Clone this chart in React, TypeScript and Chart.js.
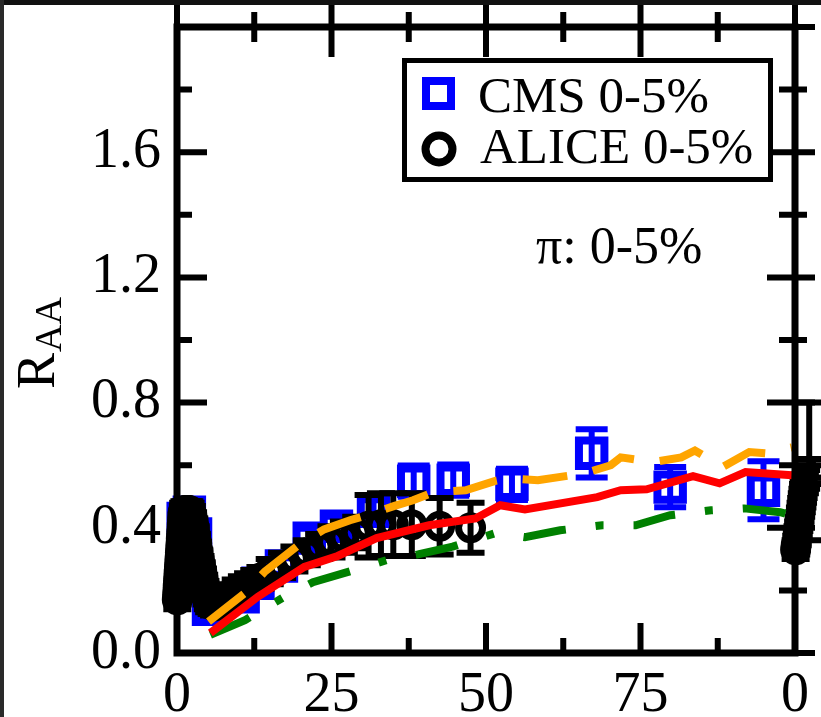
import React, { useEffect, useRef } from 'react';
import { Chart, registerables } from 'chart.js';

Chart.register(...registerables);

const FONT = '"Liberation Serif", "Times New Roman", serif';

// ---- data ----
const cmsX = [1.0, 2.0, 3.0, 5.1, 10.7, 13.1, 16.9, 21.4, 25.8, 31.8, 38.3, 44.7, 54.2, 67.1, 79.8, 94.9];
const cmsY = [0.43, 0.45, 0.38, 0.14, 0.18, 0.223, 0.278, 0.367, 0.405, 0.453, 0.549, 0.552, 0.539, 0.638, 0.53, 0.52];
const cmsErr = [0.02, 0.02, 0.02, 0.02, 0.02, 0.02, 0.025, 0.03, 0.03, 0.035, 0.05, 0.05, 0.05, 0.077, 0.064, 0.093];

// ALICE: dense low-pT bins (rise, plateau, fall), then higher pT bins
const aliceX = [
  0.05, 0.1, 0.15, 0.2, 0.25, 0.3, 0.35, 0.4, 0.45, 0.5, 0.55, 0.6, 0.65, 0.7, 0.75, 0.8, 0.85, 0.9, 0.95, 1.0,
  1.2, 1.4, 1.6, 1.8, 2.0, 2.2, 2.4,
  2.6, 2.8, 3.0, 3.2, 3.4, 3.6, 3.8, 4.0, 4.2, 4.4, 4.6, 4.8, 5.0, 5.2, 5.6, 6.0,
  6.5, 7.5, 8.5, 9.5, 10.5, 11.5, 12.5, 13.5, 15, 17, 19, 21, 23, 25, 27, 29, 31, 33, 35, 38, 42.5, 47.5,
];
const aliceY = [
  0.17, 0.185, 0.2, 0.215, 0.23, 0.245, 0.26, 0.275, 0.29, 0.305, 0.32, 0.335, 0.35, 0.365, 0.38, 0.395, 0.41, 0.425, 0.44, 0.45,
  0.455, 0.455, 0.455, 0.455, 0.455, 0.45, 0.44,
  0.42, 0.4, 0.375, 0.35, 0.325, 0.3, 0.28, 0.26, 0.24, 0.22, 0.2, 0.185, 0.17, 0.16, 0.155, 0.15,
  0.155, 0.17, 0.185, 0.2, 0.21, 0.22, 0.23, 0.24, 0.26, 0.28, 0.3, 0.32, 0.34, 0.355, 0.37, 0.385, 0.405, 0.41, 0.41, 0.41, 0.405, 0.4,
];
const aliceErr = [
  0.03, 0.03, 0.03, 0.03, 0.03, 0.03, 0.03, 0.03, 0.03, 0.03, 0.03, 0.03, 0.03, 0.03, 0.03, 0.03, 0.03, 0.03, 0.03, 0.03,
  0.03, 0.03, 0.03, 0.03, 0.03, 0.03, 0.03,
  0.03, 0.03, 0.03, 0.03, 0.03, 0.03, 0.03, 0.03, 0.03, 0.03, 0.03, 0.03, 0.03, 0.03, 0.03, 0.03,
  0.035, 0.035, 0.035, 0.035, 0.035, 0.035, 0.035, 0.035, 0.04, 0.04, 0.04, 0.04, 0.04, 0.05, 0.05, 0.05, 0.1, 0.1, 0.1, 0.1, 0.09, 0.08,
];

// neighbouring panel's low-pT ALICE points that spill over the right edge
const nextX = [100.1, 100.2, 100.3, 100.4, 100.5, 100.6, 100.7, 100.8, 100.9, 101.0, 101.1, 101.2, 101.3, 101.4, 101.6, 101.8, 102.0, 102.3, 102.6, 102.9];
const nextY = [0.33, 0.345, 0.36, 0.375, 0.39, 0.405, 0.42, 0.435, 0.45, 0.465, 0.48, 0.495, 0.51, 0.525, 0.54, 0.555, 0.57, 0.58, 0.59, 0.59];
const nextErr = [0.03, 0.03, 0.03, 0.03, 0.03, 0.03, 0.03, 0.03, 0.03, 0.03, 0.03, 0.03, 0.03, 0.03, 0.03, 0.03, 0.03, 0.22, 0.03, 0.03];

const redX = [5.4, 13.1, 20.6, 26, 32.3, 40.8, 48.3, 52.3, 56.3, 68, 71.8, 76, 83.5, 87.8, 92, 99.5];
const redY = [0.064, 0.18, 0.275, 0.31, 0.367, 0.408, 0.43, 0.472, 0.459, 0.498, 0.52, 0.523, 0.565, 0.542, 0.578, 0.568];

const orangeX = [5.1, 11.2, 14.2, 20, 23.8, 28, 30.7, 35.2, 38.2, 41.6, 46.7, 51.5, 53.6, 58.4, 65.9, 70.2, 71.8, 77, 81.6, 83.8, 88.3, 92.6, 95.2, 99.5];
const orangeY = [0.1, 0.195, 0.26, 0.35, 0.395, 0.424, 0.44, 0.47, 0.488, 0.514, 0.52, 0.55, 0.558, 0.552, 0.574, 0.6, 0.625, 0.61, 0.625, 0.647, 0.594, 0.642, 0.638, 0.657];

const greenX = [5.4, 11, 17.4, 22, 27, 34, 39, 44.6, 51.5, 56.3, 62, 68.8, 74.2, 79.8, 86.4, 91.8, 97.6, 99.5];
const greenY = [0.058, 0.105, 0.18, 0.226, 0.255, 0.297, 0.315, 0.34, 0.383, 0.37, 0.392, 0.408, 0.408, 0.44, 0.456, 0.462, 0.45, 0.44];

const xTickValues = [0, 25, 50, 75, 100];
const xTickLabels = ['0', '25', '50', '75', '0'];
const xMinorValues = [12.5, 37.5, 62.5, 87.5];
const yTickValues = [0, 0.4, 0.8, 1.2, 1.6];
const yTickLabels = ['0.0', '0.4', '0.8', '1.2', '1.6'];
const yMajorAll = [0, 0.4, 0.8, 1.2, 1.6, 2.0];
const yMinorValues = [0.2, 0.6, 1.0, 1.4, 1.8];

const legendLabels = ['CMS 0-5%', 'ALICE 0-5%'];
const annotationText = 'π: 0-5%';
const yTitleMain = 'R';
const yTitleSub = 'AA';

const BLUE = '#0000ff';
const ORANGE = '#ffa500';
const RED = '#ff0000';
const GREEN = '#008000';

const pts = (xs: number[], ys: number[]) => xs.map((x, i) => ({ x, y: ys[i] }));

const errorBarPlugin = {
  id: 'errorBars',
  beforeDatasetDraw(chart: any, args: any) {
    const ds = chart.data.datasets[args.index];
    if (!ds.errors) return;
    const ctx = chart.ctx;
    const ys = chart.scales.y;
    ctx.save();
    ctx.strokeStyle = ds.errColor;
    ctx.lineWidth = ds.errWidth;
    ctx.lineCap = 'butt';
    args.meta.data.forEach((el: any, i: number) => {
      const d = ds.data[i];
      const e = ds.errors[i];
      const x = el.x;
      const yt = ys.getPixelForValue(d.y + e);
      const yb = ys.getPixelForValue(d.y - e);
      const c = ds.errCap;
      ctx.beginPath();
      ctx.moveTo(x, yt);
      ctx.lineTo(x, yb);
      ctx.moveTo(x - c, yt);
      ctx.lineTo(x + c, yt);
      ctx.moveTo(x - c, yb);
      ctx.lineTo(x + c, yb);
      ctx.stroke();
    });
    ctx.restore();
  },
};

const framePlugin = {
  id: 'frame',
  afterDatasetsDraw(chart: any) {
    const { ctx, chartArea: a, scales } = chart;
    const xs = scales.x;
    const ys = scales.y;
    ctx.save();
    ctx.strokeStyle = '#000';
    ctx.lineCap = 'butt';
    ctx.lineWidth = 6;
    ctx.beginPath();
    xTickValues.forEach((v) => {
      const px = xs.getPixelForValue(v);
      ctx.moveTo(px, a.bottom);
      ctx.lineTo(px, a.bottom - 30);
      ctx.moveTo(px, a.top - 30);
      ctx.lineTo(px, a.top + 30);
    });
    xMinorValues.forEach((v) => {
      const px = xs.getPixelForValue(v);
      ctx.moveTo(px, a.bottom);
      ctx.lineTo(px, a.bottom - 15);
      ctx.moveTo(px, a.top - 15);
      ctx.lineTo(px, a.top + 15);
    });
    yMajorAll.forEach((v) => {
      const py = ys.getPixelForValue(v);
      ctx.moveTo(a.left, py);
      ctx.lineTo(a.left + 30, py);
      ctx.moveTo(a.right - 28, py);
      ctx.lineTo(a.right + 20, py);
    });
    yMinorValues.forEach((v) => {
      const py = ys.getPixelForValue(v);
      ctx.moveTo(a.left, py);
      ctx.lineTo(a.left + 15, py);
      ctx.moveTo(a.right - 16, py);
      ctx.lineTo(a.right + 12, py);
    });
    ctx.stroke();
    ctx.lineWidth = 7;
    ctx.beginPath();
    ctx.rect(a.left, a.top, a.right - a.left, a.bottom - a.top);
    ctx.stroke();
    ctx.restore();
  },
  afterDraw(chart: any) {
    const ctx = chart.ctx;
    ctx.save();
    // legend box
    ctx.fillStyle = '#fff';
    ctx.fillRect(404, 60, 367, 120);
    ctx.strokeStyle = '#000';
    ctx.lineWidth = 5;
    ctx.strokeRect(404.5, 60.5, 366, 119);
    // legend markers
    ctx.strokeStyle = BLUE;
    ctx.lineWidth = 8;
    ctx.strokeRect(426, 81, 25, 25);
    ctx.strokeStyle = '#000';
    ctx.lineWidth = 8;
    ctx.beginPath();
    ctx.arc(439, 149, 13.5, 0, Math.PI * 2);
    ctx.stroke();
    // legend text
    ctx.fillStyle = '#000';
    ctx.font = `51px ${FONT}`;
    ctx.textBaseline = 'alphabetic';
    ctx.textAlign = 'left';
    ctx.fillText(legendLabels[0], 478, 112);
    ctx.fillText(legendLabels[1], 480, 163);
    // annotation
    ctx.font = `52px ${FONT}`;
    ctx.fillText(annotationText, 536, 263);
    // y title
    ctx.translate(54, 389);
    ctx.rotate(-Math.PI / 2);
    ctx.font = `54px ${FONT}`;
    ctx.fillText(yTitleMain, 0, 0);
    const w = ctx.measureText(yTitleMain).width;
    ctx.font = `38px ${FONT}`;
    ctx.fillText(yTitleSub, w + 1, 7);
    ctx.restore();
  },
};

const aliceStyle = {
  pointStyle: 'circle',
  pointRadius: 12,
  pointBorderWidth: 7,
  pointBorderColor: '#000',
  borderColor: '#000',
  pointBackgroundColor: 'rgba(0,0,0,0)',
  backgroundColor: 'rgba(0,0,0,0)',
  clip: false,
  order: 3,
  errColor: '#000',
  errWidth: 6,
  errCap: 14,
};

export default function App() {
  const ref = useRef<HTMLCanvasElement | null>(null);
  useEffect(() => {
    document.body.style.margin = '0';
    const canvas = ref.current;
    if (!canvas) return;
    const chart = new Chart(canvas, {
      type: 'scatter',
      data: {
        datasets: [
          {
            label: 'red',
            data: pts(redX, redY),
            showLine: true,
            borderColor: RED,
            borderWidth: 8,
            pointRadius: 0,
            order: 0,
          } as any,
          {
            label: 'orange',
            data: pts(orangeX, orangeY),
            showLine: true,
            borderColor: ORANGE,
            borderWidth: 8,
            borderDash: [45, 26],
            borderCapStyle: 'butt',
            pointRadius: 0,
            order: 1,
          } as any,
          {
            label: 'green',
            data: pts(greenX, greenY),
            showLine: true,
            borderColor: GREEN,
            borderWidth: 8,
            borderDash: [43, 30, 8, 30],
            borderCapStyle: 'butt',
            pointRadius: 0,
            order: 2,
          } as any,
          {
            label: legendLabels[1],
            data: pts(aliceX, aliceY),
            errors: aliceErr,
            ...aliceStyle,
          } as any,
          {
            label: 'next panel',
            data: pts(nextX, nextY),
            errors: nextErr,
            ...aliceStyle,
          } as any,
          {
            label: legendLabels[0],
            data: pts(cmsX, cmsY),
            pointStyle: 'rect',
            pointRadius: 18,
            pointBorderWidth: 8,
            pointBorderColor: BLUE,
            borderColor: BLUE,
            pointBackgroundColor: 'rgba(0,0,0,0)',
            backgroundColor: 'rgba(0,0,0,0)',
            clip: false,
            order: 5,
            errors: cmsErr,
            errColor: BLUE,
            errWidth: 6,
            errCap: 16,
          } as any,
        ],
      },
      options: {
        responsive: false,
        devicePixelRatio: 1,
        animation: false,
        events: [],
        layout: { padding: { left: 0, top: 27, right: 18, bottom: 0 } },
        plugins: { legend: { display: false }, tooltip: { enabled: false } },
        scales: {
          x: {
            type: 'linear',
            min: 0,
            max: 100,
            grid: { display: false, drawTicks: false, tickLength: 0 },
            border: { display: false },
            afterBuildTicks: (s: any) => {
              s.ticks = xTickValues.map((v) => ({ value: v }));
            },
            afterFit: (s: any) => {
              s.height = 64;
              s.paddingLeft = 0;
              s.paddingRight = 0;
            },
            ticks: {
              autoSkip: false,
              maxRotation: 0,
              minRotation: 0,
              padding: 10,
              color: '#000',
              font: { family: FONT, size: 56 },
              callback: (v: any) => xTickLabels[xTickValues.indexOf(Number(v))],
            },
          },
          y: {
            type: 'linear',
            min: 0,
            max: 2.0,
            grid: { display: false, drawTicks: false, tickLength: 0 },
            border: { display: false },
            afterBuildTicks: (s: any) => {
              s.ticks = yTickValues.map((v) => ({ value: v }));
            },
            afterFit: (s: any) => {
              s.width = 177;
              s.paddingTop = 0;
              s.paddingBottom = 0;
            },
            ticks: {
              autoSkip: false,
              padding: 16,
              color: '#000',
              font: { family: FONT, size: 56 },
              callback: (v: any) => yTickLabels[yTickValues.indexOf(Number(v))],
            },
          },
        },
      },
      plugins: [errorBarPlugin, framePlugin],
    } as any);
    return () => chart.destroy();
  }, []);

  return (
    <div style={{ position: 'relative', width: 821, height: 717, background: '#fff', overflow: 'hidden' }}>
      <canvas ref={ref} width={821} height={717} style={{ display: 'block' }} />
      <div style={{ position: 'absolute', left: 0, top: 0, width: 821, height: 5, background: '#111' }} />
      <div style={{ position: 'absolute', left: 0, top: 0, width: 4, height: 717, background: '#2a2a2a' }} />
    </div>
  );
}
